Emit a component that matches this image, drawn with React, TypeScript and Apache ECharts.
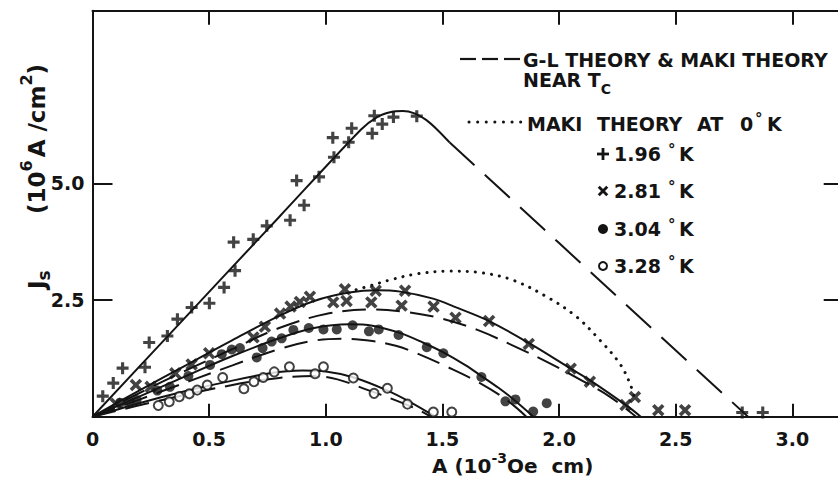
import React, { useEffect, useRef } from "react";
import * as echarts from "echarts";

const INK = "#141414";
const FONT = '"DejaVu Sans", sans-serif';

// tick values
const xTickVals = [0, 0.5, 1.0, 1.5, 2.0, 2.5, 3.0];
const yTickVals = [2.5, 5.0];

// measured points
const plus196 = [
  [0.044, 0.44], [0.089, 0.72], [0.129, 1.04], [0.225, 1.06], [0.243, 1.59], [0.321, 1.73],
  [0.364, 2.09], [0.425, 2.34], [0.501, 2.43], [0.564, 2.77], [0.611, 3.13], [0.605, 3.74],
  [0.689, 3.8], [0.747, 4.09], [0.847, 4.21], [0.875, 5.06], [0.907, 4.53], [0.971, 5.14],
  [1.035, 5.56], [1.03, 5.98], [1.098, 5.88], [1.111, 6.18], [1.199, 6.07], [1.208, 6.45],
  [1.242, 6.27], [1.29, 6.42], [1.39, 6.44], [2.785, 0.09], [2.873, 0.09],
];
const cross281 = [
  [0.1, 0.28], [0.186, 0.68], [0.249, 0.64], [0.355, 0.93], [0.425, 1.12], [0.5, 1.36],
  [0.69, 1.7], [0.739, 1.93], [0.804, 2.21], [0.849, 2.36], [0.889, 2.46], [0.932, 2.57],
  [1.032, 2.45], [1.082, 2.73], [1.089, 2.48], [1.195, 2.45], [1.214, 2.7], [1.325, 2.38],
  [1.34, 2.7], [1.462, 2.36], [1.556, 2.12], [1.7, 2.05], [1.87, 1.56], [2.05, 1.03],
  [2.132, 0.75], [2.285, 0.25], [2.325, 0.42], [2.425, 0.14], [2.54, 0.14],
];
const dot304 = [
  [0.118, 0.3], [0.158, 0.32], [0.189, 0.36], [0.278, 0.56], [0.332, 0.64], [0.411, 0.87],
  [0.504, 1.11], [0.554, 1.34], [0.597, 1.44], [0.632, 1.47], [0.704, 1.27], [0.729, 1.47],
  [0.768, 1.61], [0.811, 1.68], [0.861, 1.86], [0.927, 1.9], [0.99, 1.87], [1.047, 1.87],
  [1.115, 1.96], [1.185, 1.83], [1.227, 1.87], [1.312, 1.75], [1.433, 1.49], [1.504, 1.36],
  [1.667, 0.85], [1.77, 0.33], [1.813, 0.37], [1.889, 0.11], [1.947, 0.29],
];
const ring328 = [
  [0.282, 0.24], [0.329, 0.32], [0.372, 0.43], [0.415, 0.49], [0.449, 0.57], [0.492, 0.68],
  [0.558, 0.84], [0.649, 0.6], [0.692, 0.75], [0.732, 0.84], [0.779, 0.96], [0.844, 1.07],
  [0.954, 0.92], [0.99, 1.07], [1.118, 0.83], [1.207, 0.5], [1.264, 0.61], [1.35, 0.27],
  [1.461, 0.1], [1.54, 0.1],
];

// theory curves
const fit196Solid = [
  [0, 0], [0.4, 2.14], [0.8, 4.28], [1.15, 6.15], [1.22, 6.42], [1.28, 6.53], [1.33, 6.55],
  [1.38, 6.5], [1.43, 6.36], [1.48, 6.14], [1.53, 5.88],
];
const gl196Dash = [[1.53, 5.88], [2.0, 3.72], [2.4, 1.88], [2.81, 0]];
const fit281Solid = [
  [0, 0], [0.2, 0.56], [0.4, 1.1], [0.6, 1.64], [0.8, 2.16], [0.95, 2.48], [1.1, 2.66],
  [1.22, 2.71], [1.32, 2.68], [1.46, 2.53], [1.55, 2.36], [1.7, 2.05], [1.87, 1.58],
  [2.05, 1.03], [2.13, 0.79], [2.3, 0.2], [2.35, 0],
];
const gl281Dash = [
  [0, 0], [0.3, 0.75], [0.6, 1.45], [0.8, 1.9], [1.0, 2.2], [1.2, 2.3], [1.35, 2.24],
  [1.5, 2.1], [1.65, 1.86], [1.8, 1.53], [1.95, 1.17], [2.1, 0.77], [2.22, 0.42], [2.33, 0],
];
const maki0KDots = [
  [1.13, 2.72], [1.2, 2.82], [1.275, 2.93], [1.39, 3.06], [1.53, 3.12], [1.66, 3.09],
  [1.8, 2.93], [1.947, 2.57], [2.075, 2.14], [2.175, 1.64], [2.26, 1.14], [2.304, 0.71],
  [2.325, 0.36],
];
const fit304Solid = [
  [0, 0], [0.2, 0.43], [0.4, 0.87], [0.6, 1.3], [0.8, 1.68], [0.95, 1.9], [1.1, 1.98],
  [1.2, 1.95], [1.32, 1.79], [1.42, 1.58], [1.5, 1.39], [1.6, 1.1], [1.67, 0.86],
  [1.74, 0.62], [1.8, 0.39], [1.89, 0],
];
const gl304Dash = [
  [0, 0], [0.3, 0.55], [0.6, 1.1], [0.8, 1.45], [0.95, 1.63], [1.08, 1.67], [1.2, 1.62],
  [1.3, 1.52], [1.39, 1.36], [1.52, 1.07], [1.65, 0.75], [1.775, 0.36], [1.86, 0],
];
const fit328Solid = [
  [0, 0], [0.2, 0.29], [0.4, 0.55], [0.56, 0.73], [0.76, 0.93], [0.9, 0.99], [1.0, 0.97],
  [1.12, 0.84], [1.26, 0.57], [1.36, 0.32], [1.47, 0],
];
const gl328Dash = [
  [0, 0], [0.3, 0.36], [0.6, 0.68], [0.8, 0.83], [0.95, 0.87], [1.05, 0.8], [1.175, 0.58],
  [1.3, 0.35], [1.4, 0.14], [1.45, 0],
];

const legendTemps = ["1.96", "2.81", "3.04", "3.28"];

const PLUS = "path://M3.7,0H6.3V3.7H10V6.3H6.3V10H3.7V6.3H0V3.7H3.7Z";

let ctx: CanvasRenderingContext2D | null = null;
function measure(t: string, size: number) {
  if (!ctx) ctx = document.createElement("canvas").getContext("2d");
  ctx!.font = `bold ${size}px "DejaVu Sans"`;
  return ctx!.measureText(t).width;
}

function txt(t: string, x: number, y: number, size: number) {
  return {
    type: "text",
    x,
    y,
    style: {
      text: t,
      fontSize: size,
      fontWeight: "bold",
      fontFamily: FONT,
      fill: INK,
      verticalAlign: "middle",
      textVerticalAlign: "middle",
    },
  };
}

function run(x: number, y: number, parts: Array<[string, number, number, number?]>, rotation = 0) {
  let off = 0;
  const children: any[] = [];
  for (const [t, size, dy, extra] of parts) {
    children.push(txt(t, off, dy, size));
    off += measure(t, size) + (extra || 0);
  }
  return { type: "group", x, y, rotation, children };
}

function lineSeries(data: number[][], type: any, smooth = 0.35, extra: any = {}) {
  return {
    type: "line",
    data,
    symbol: "none",
    showSymbol: false,
    smooth,
    lineStyle: { color: INK, width: 2, type, ...extra },
    z: 2,
  };
}

function plusShape(x: number, y: number, rot: number) {
  return {
    type: "group",
    x,
    y,
    rotation: rot,
    children: [
      { type: "rect", shape: { x: -6, y: -1.4, width: 12, height: 2.8 }, style: { fill: INK } },
      { type: "rect", shape: { x: -1.4, y: -6, width: 2.8, height: 12 }, style: { fill: INK } },
    ],
  };
}

export default function App() {
  const ref = useRef<HTMLDivElement>(null);
  useEffect(() => {
    const chart = echarts.init(ref.current!, null, { renderer: "svg" });
    const axisCommon = {
      type: "value",
      splitLine: { show: false },
      axisLine: { show: true, onZero: false, lineStyle: { color: INK, width: 2 } },
    };
    const labelStyle = { fontSize: 19, fontWeight: "bold", fontFamily: FONT, color: INK };
    const legendY = [154, 191, 229, 266];
    const markerX = 603;
    const markers: any[] = [
      plusShape(markerX, legendY[0], 0),
      plusShape(markerX, legendY[1], Math.PI / 4),
      { type: "circle", shape: { cx: markerX, cy: legendY[2], r: 5 }, style: { fill: INK } },
      {
        type: "circle",
        shape: { cx: markerX, cy: legendY[3], r: 4 },
        style: { fill: "#fff", stroke: INK, lineWidth: 2 },
      },
    ];
    const tempTexts: any[] = [];
    legendTemps.forEach((t, i) => {
      tempTexts.push(txt(t, 614, legendY[i], 19));
      tempTexts.push(txt("°", 668, legendY[i] - 4, 15));
      tempTexts.push(txt("K", 679, legendY[i], 19));
    });

    const option: any = {
      animation: false,
      backgroundColor: "#fff",
      grid: {
        left: 92.5,
        top: 10.7,
        width: 751.2,
        height: 406,
        containLabel: false,
        outerBoundsMode: "none",
      },
      xAxis: [
        {
          ...axisCommon,
          min: 0,
          max: 3.22,
          position: "bottom",
          axisTick: { show: true, inside: true, length: 13, customValues: xTickVals, lineStyle: { color: INK, width: 2 } },
          axisLabel: {
            ...labelStyle,
            customValues: xTickVals,
            margin: 13,
            formatter: (v: number) => (v === 0 ? "0" : v.toFixed(1)),
          },
        },
        {
          ...axisCommon,
          min: 0,
          max: 3.22,
          position: "top",
          axisTick: { show: true, inside: true, length: 14, customValues: xTickVals, lineStyle: { color: INK, width: 2 } },
          axisLabel: { show: true, customValues: xTickVals, formatter: () => "" },
        },
      ],
      yAxis: [
        {
          ...axisCommon,
          min: 0,
          max: 8.7,
          position: "left",
          axisTick: { show: true, inside: true, length: 20, customValues: yTickVals, lineStyle: { color: INK, width: 2 } },
          axisLabel: { ...labelStyle, customValues: yTickVals, margin: 8, formatter: (v: number) => v.toFixed(1) },
        },
        {
          ...axisCommon,
          min: 0,
          max: 8.7,
          position: "right",
          axisTick: { show: true, inside: true, length: 20, customValues: yTickVals, lineStyle: { color: INK, width: 2 } },
          axisLabel: { show: true, customValues: yTickVals, formatter: () => "" },
        },
      ],
      series: [
        lineSeries(fit196Solid, "solid", 0.3),
        lineSeries(gl196Dash, [34, 14], 0),
        lineSeries(fit281Solid, "solid"),
        lineSeries(gl281Dash, [24, 10]),
        lineSeries(maki0KDots, [0.1, 8], 0.35, { cap: "round", width: 3 }),
        lineSeries(fit304Solid, "solid"),
        lineSeries(gl304Dash, [24, 10]),
        lineSeries(fit328Solid, "solid"),
        lineSeries(gl328Dash, [24, 10]),
        {
          name: "1.96 °K",
          type: "scatter",
          data: plus196,
          symbol: PLUS,
          symbolSize: 12,
          itemStyle: { color: INK },
          z: 3,
        },
        {
          name: "2.81 °K",
          type: "scatter",
          data: cross281,
          symbol: PLUS,
          symbolSize: 14,
          symbolRotate: 45,
          itemStyle: { color: INK },
          z: 3,
        },
        {
          name: "3.04 °K",
          type: "scatter",
          data: dot304,
          symbol: "circle",
          symbolSize: 10,
          itemStyle: { color: INK },
          z: 3,
        },
        {
          name: "3.28 °K",
          type: "scatter",
          data: ring328,
          symbol: "circle",
          symbolSize: 9,
          itemStyle: { color: "#fff", borderColor: INK, borderWidth: 2 },
          z: 3,
        },
      ],
      graphic: [
        // legend
        { type: "line", shape: { x1: 460, y1: 59, x2: 476, y2: 59 }, style: { stroke: INK, lineWidth: 2.2 } },
        { type: "line", shape: { x1: 482, y1: 59, x2: 498, y2: 59 }, style: { stroke: INK, lineWidth: 2.2 } },
        { type: "line", shape: { x1: 504, y1: 59, x2: 520, y2: 59 }, style: { stroke: INK, lineWidth: 2.2 } },
        txt("G-L THEORY & MAKI THEORY", 523, 60, 19),
        run(523, 80, [["NEAR T", 19, 0], ["C", 14, 9]]),
        {
          type: "line",
          shape: { x1: 469, y1: 122, x2: 521, y2: 122 },
          style: { stroke: INK, lineWidth: 3, lineDash: [0.1, 8.5], lineCap: "round" },
        },
        txt("MAKI", 527, 124, 19),
        txt("THEORY", 597, 124, 19),
        txt("AT", 697, 124, 19),
        txt("0", 740, 124, 19),
        txt("°", 755, 119, 15),
        txt("K", 767, 124, 19),
        ...markers,
        ...tempTexts,
        // axis names
        run(432, 466, [["A (10", 20, 0], ["-3", 14, -8], ["Oe  cm)", 20, 0]]),
        run(36.5, 214, [["(10", 23, 0], ["6", 16, -10, 3], ["A /cm", 23, 0], ["2", 16, -10], [")", 23, 0]], Math.PI / 2),
        run(36.5, 289, [["J", 23, 0], ["s", 17, 7]], Math.PI / 2),
      ],
    };
    chart.setOption(option);
    return () => chart.dispose();
  }, []);
  return (
    <div
      ref={ref}
      style={{ position: "fixed", left: 0, top: 0, width: 838, height: 482, background: "#fff" }}
    />
  );
}
